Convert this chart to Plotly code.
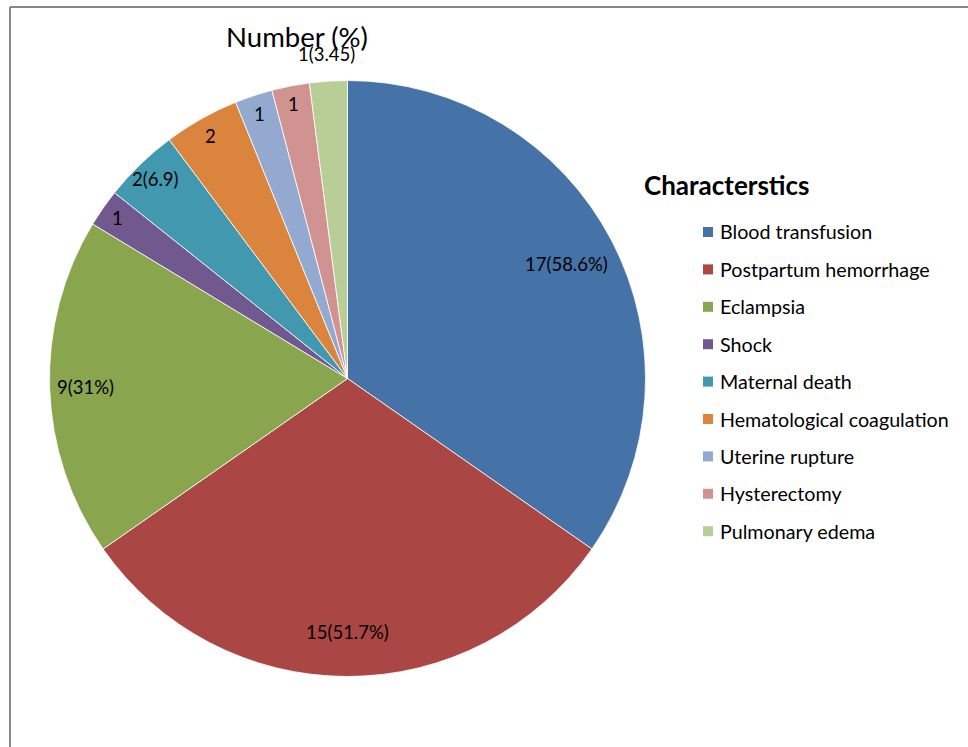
import math
import plotly.graph_objects as go

# ---- data ----
categories = ["Blood transfusion", "Postpartum hemorrhage", "Eclampsia", "Shock",
              "Maternal death", "Hematological coagulation", "Uterine rupture",
              "Hysterectomy", "Pulmonary edema"]
counts = [17, 15, 9, 1, 2, 2, 1, 1, 1]
slice_labels = ["17(58.6%)", "15(51.7%)", "9(31%)", "1", "2(6.9)", "2", "1", "1", "1(3.45)"]
chart_title = "Number (%)"
legend_title = "Characterstics"

# ---- style ----
colors = ["#4572A7", "#AA4643", "#89A54E", "#71588F", "#4198AF",
          "#DB843D", "#93A9CF", "#D19392", "#B9CD96"]
label_radius = [0.83, 0.85, 0.88, 0.94, 0.93, 0.935, 0.935, 0.94, 1.09]
FONT = "Lato"
W, H = 968, 747
CX, CY, R = 347.5, 378.5, 298.0


def px_x(x):
    return x / W


def px_y(y):
    return 1 - y / H


fig = go.Figure()
fig.add_trace(go.Pie(
    labels=categories, values=counts, sort=False, direction="clockwise", rotation=0,
    marker=dict(colors=colors, line=dict(color="white", width=0.8)),
    textinfo="none", hoverinfo="label+value", showlegend=False,
    domain=dict(x=[px_x(CX - R), px_x(CX + R)], y=[px_y(CY + R), px_y(CY - R)]),
))

annotations = []
total = sum(counts)
cum = 0
for v, lab, rf in zip(counts, slice_labels, label_radius):
    mid = (cum + v / 2) / total * 2 * math.pi
    cum += v
    x = CX + rf * R * math.sin(mid)
    y = CY - rf * R * math.cos(mid)
    annotations.append(dict(x=px_x(x), y=px_y(y), xref="paper", yref="paper",
                            text=lab, showarrow=False, xanchor="center", yanchor="middle",
                            font=dict(family=FONT, size=18.5, color="black")))

# legend (manual, to match row spacing)
annotations.append(dict(x=px_x(642), y=px_y(185), xref="paper", yref="paper",
                        text="<b>" + legend_title + "</b>", showarrow=False,
                        xanchor="left", yanchor="middle",
                        font=dict(family=FONT, size=26, color="black")))
shapes = []
for i, (cat, col) in enumerate(zip(categories, colors)):
    yc = 232 + i * 37.4
    shapes.append(dict(type="rect", xref="paper", yref="paper",
                       x0=px_x(703), x1=px_x(713), y0=px_y(yc + 5), y1=px_y(yc - 5),
                       fillcolor=col, line=dict(width=0)))
    annotations.append(dict(x=px_x(718), y=px_y(yc), xref="paper", yref="paper",
                            text=cat, showarrow=False, xanchor="left", yanchor="middle",
                            font=dict(family=FONT, size=19.7, color="black")))

# outer frame (top and left edges visible)
shapes.append(dict(type="line", xref="paper", yref="paper", x0=px_x(10), x1=1.0,
                   y0=px_y(7), y1=px_y(7), line=dict(color="#888888", width=2)))
shapes.append(dict(type="line", xref="paper", yref="paper", x0=px_x(10), x1=px_x(10),
                   y0=px_y(7), y1=0.0, line=dict(color="#888888", width=2)))

fig.update_layout(
    width=W, height=H, margin=dict(l=0, r=0, t=0, b=0),
    paper_bgcolor="white", plot_bgcolor="white",
    title=dict(text=chart_title, x=px_x(297), y=px_y(37), xanchor="center", yanchor="middle",
               font=dict(family=FONT, size=27.5, color="black")),
    annotations=annotations, shapes=shapes, showlegend=False,
)

fig.write_html("out.html")
